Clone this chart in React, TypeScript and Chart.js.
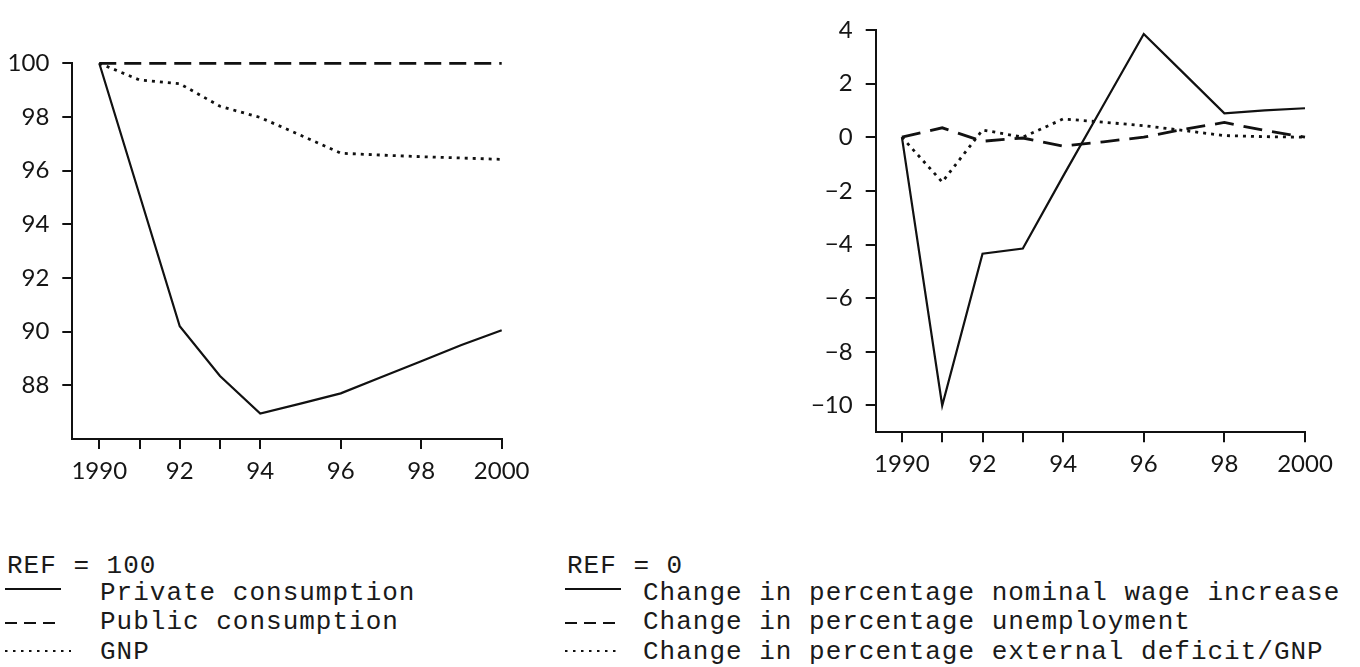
import React, { useEffect, useRef } from "react";
import { Chart, registerables } from "chart.js";

Chart.register(...registerables);

// ---------- data ----------
const years = [1990, 1991, 1992, 1993, 1994, 1995, 1996, 1997, 1998, 1999, 2000];

// Left panel (REF = 100)
const privateConsumption = [100, 95.1, 90.2, 88.35, 86.95, 87.32, 87.7, 88.3, 88.9, 89.5, 90.05];
const publicConsumption = [100, 100, 100, 100, 100, 100, 100, 100, 100, 100, 100];
const gnp = [100, 99.38, 99.24, 98.4, 97.98, 97.32, 96.65, 96.58, 96.52, 96.47, 96.42];

// Right panel (REF = 0)
const wageIncrease = [0, -10.0, -4.34, -4.15, -1.45, 1.2, 3.85, 2.37, 0.89, 1.0, 1.08];
const unemployment = [0, 0.35, -0.15, -0.03, -0.33, -0.17, 0.0, 0.3, 0.55, 0.25, 0.0];
const externalDeficit = [0, -1.67, 0.27, 0.0, 0.68, 0.56, 0.43, 0.25, 0.06, 0.02, 0.0];

const xTickValues = [1990, 1991, 1992, 1993, 1994, 1996, 1998, 2000];
const xTickLabels = ["1990", "", "92", "", "94", "96", "98", "2000"];
const leftYTicks = [88, 90, 92, 94, 96, 98, 100];
const rightYTicks = [-10, -8, -6, -4, -2, 0, 2, 4];

const leftLegendTitle = "REF = 100";
const leftLegendLabels = ["Private consumption", "Public consumption", "GNP"];
const rightLegendTitle = "REF = 0";
const rightLegendLabels = [
  "Change in percentage nominal wage increase",
  "Change in percentage unemployment",
  "Change in percentage external deficit/GNP",
];

// ---------- helpers ----------
const toPoints = (vals: number[]) => years.map((y, i) => ({ x: y, y: vals[i] }));

const tickFont = { family: "Lato", size: 24, weight: "normal" as any };

function makeConfig(opts: {
  series: { data: number[]; dash: number[]; width: number }[];
  xMin: number;
  yMin: number;
  yMax: number;
  yTicks: number[];
  yWidth: number;
  xHeight: number;
  padding: any;
}): any {
  return {
    type: "line",
    data: {
      datasets: opts.series.map((s) => ({
        data: toPoints(s.data),
        borderColor: "#111",
        borderWidth: s.width,
        borderDash: s.dash,
        borderCapStyle: "butt",
        pointRadius: 0,
        tension: 0,
        fill: false,
        clip: 6,
      })),
    },
    options: {
      responsive: false,
      animation: false,
      layout: { padding: opts.padding },
      plugins: { legend: { display: false }, tooltip: { enabled: false } },
      scales: {
        x: {
          type: "linear",
          min: opts.xMin,
          max: 2000,
          afterBuildTicks: (axis: any) => {
            axis.ticks = xTickValues.map((v) => ({ value: v }));
          },
          afterFit: (axis: any) => {
            axis.height = opts.xHeight;
          },
          ticks: {
            autoSkip: false,
            maxRotation: 0,
            padding: 8,
            color: "#151515",
            font: tickFont,
            callback: (v: number) => {
              const i = xTickValues.indexOf(v);
              return i >= 0 ? xTickLabels[i] : "";
            },
          },
          grid: {
            drawOnChartArea: false,
            drawTicks: true,
            tickLength: 10,
            color: "#111",
            lineWidth: 2,
          },
          border: { display: true, color: "#111", width: 2 },
        },
        y: {
          type: "linear",
          min: opts.yMin,
          max: opts.yMax,
          afterBuildTicks: (axis: any) => {
            axis.ticks = opts.yTicks.map((v) => ({ value: v }));
          },
          afterFit: (axis: any) => {
            axis.width = opts.yWidth;
          },
          ticks: {
            autoSkip: false,
            padding: 13,
            color: "#151515",
            font: tickFont,
            callback: (v: number) => (v < 0 ? "\u2212" + String(-v) : String(v)),
          },
          grid: {
            drawOnChartArea: false,
            drawTicks: true,
            tickLength: 10,
            color: "#111",
            lineWidth: 2,
          },
          border: { display: true, color: "#111", width: 2 },
        },
      },
    },
  };
}

function ChartCanvas({ config, left, top, width, height }: any) {
  const ref = useRef<HTMLCanvasElement>(null);
  useEffect(() => {
    const chart = new Chart(ref.current as HTMLCanvasElement, config);
    return () => chart.destroy();
  }, []);
  return (
    <canvas
      ref={ref}
      width={width}
      height={height}
      style={{ position: "absolute", left, top, width, height }}
    />
  );
}

function Symbol({ left, top, width, dash, strokeW }: any) {
  return (
    <svg
      width={width}
      height={8}
      style={{ position: "absolute", left, top: top - 4, overflow: "visible" }}
    >
      <line
        x1={0}
        y1={4}
        x2={width}
        y2={4}
        stroke="#111"
        strokeWidth={strokeW}
        strokeDasharray={dash}
      />
    </svg>
  );
}

const textStyle: React.CSSProperties = {
  position: "absolute",
  fontFamily: "'Liberation Mono', 'DejaVu Sans Mono', monospace",
  fontSize: 26,
  letterSpacing: 1,
  color: "#1a1a1a",
  whiteSpace: "nowrap",
  lineHeight: "30px",
};

export default function App() {
  const leftConfig = makeConfig({
    series: [
      { data: privateConsumption, dash: [], width: 2.2 },
      { data: publicConsumption, dash: [17, 8], width: 2.8 },
      { data: gnp, dash: [3, 5], width: 2.8 },
    ],
    xMin: 1989.33,
    yMin: 86,
    yMax: 100,
    yTicks: leftYTicks,
    yWidth: 72.3,
    xHeight: 61,
    padding: { top: 63.3, right: 58.3, left: 0, bottom: 0 },
  });

  const rightConfig = makeConfig({
    series: [
      { data: wageIncrease, dash: [], width: 2.2 },
      { data: unemployment, dash: [19, 10], width: 2.8 },
      { data: externalDeficit, dash: [3, 5], width: 2.8 },
    ],
    xMin: 1989.35,
    yMin: -11,
    yMax: 4,
    yTicks: rightYTicks,
    yWidth: 75.7,
    xHeight: 67.7,
    padding: { top: 29.9, right: 55, left: 0, bottom: 0 },
  });

  const rowY = [594, 623, 653];
  const symY = [589, 623, 651];
  const dashes = ["", "12 7", "2.5 5.5"];

  return (
    <div
      style={{
        position: "fixed",
        left: 0,
        top: 0,
        width: 1360,
        height: 667,
        background: "#fff",
        overflow: "hidden",
      }}
    >
      <ChartCanvas config={leftConfig} left={0} top={0} width={560} height={500} />
      <ChartCanvas config={rightConfig} left={800} top={0} width={560} height={500} />

      {/* left legend */}
      <div style={{ ...textStyle, left: 7, top: 567 - 16 }}>{leftLegendTitle}</div>
      {leftLegendLabels.map((t, i) => (
        <React.Fragment key={t}>
          <Symbol left={5} top={symY[i]} width={i === 2 ? 66 : 56} dash={dashes[i]} strokeW={2} />
          <div style={{ ...textStyle, left: 100, top: rowY[i] - 16 }}>{t}</div>
        </React.Fragment>
      ))}

      {/* right legend */}
      <div style={{ ...textStyle, left: 567, top: 567 - 16 }}>{rightLegendTitle}</div>
      {rightLegendLabels.map((t, i) => (
        <React.Fragment key={t}>
          <Symbol left={565} top={symY[i]} width={56} dash={dashes[i]} strokeW={2} />
          <div style={{ ...textStyle, left: 643, top: rowY[i] - 16 }}>{t}</div>
        </React.Fragment>
      ))}
    </div>
  );
}
